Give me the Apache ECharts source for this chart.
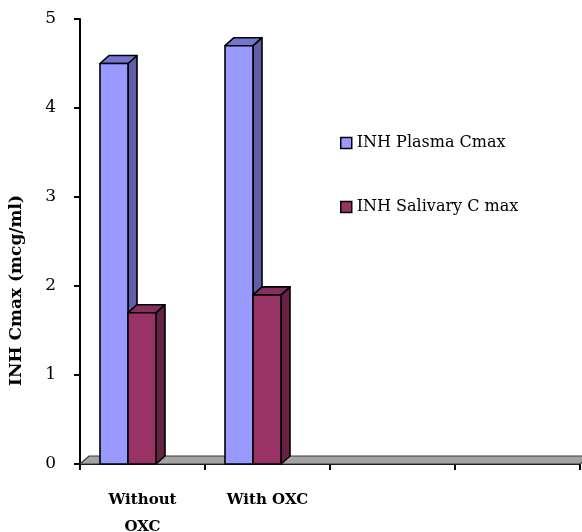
<!DOCTYPE html>
<html>
<head>
<meta charset="utf-8">
<style>
  html, body { margin: 0; padding: 0; background: #fff; }
  #chart { width: 582px; height: 532px; }
</style>
<script src="https://cdn.jsdelivr.net/npm/echarts@6/dist/echarts.min.js"></script>
</head>
<body>
<div id="chart"></div>
<script>
// Categories along the floor (two empty slots keep the same spacing)
const categories = ['Without\nOXC', 'With OXC', '', ''];
// INH peak concentrations (mcg/ml)
const plasmaCmax = [4.5, 4.7];
const salivaryCmax = [1.7, 1.9];
const seriesNames = ['INH Plasma Cmax', 'INH Salivary C max'];
const yTicks = { min: 0, max: 5, interval: 1 };

const FONT = '"DejaVu Serif", serif';
const DX = 9, DY = 8; // 3D depth offset in pixels

// face colours: front, top, side
const palettes = [
  { front: '#9999FF', top: '#7575D1', side: '#6060A8' },
  { front: '#993366', top: '#85305C', side: '#662244' }
];

function barRenderer(seriesIndex) {
  const pal = palettes[seriesIndex];
  return function (params, api) {
    const idx = api.value(0);
    const val = api.value(1);
    const top = api.coord([idx, val]);
    const base = api.coord([idx, 0]);
    const bw = api.size([1, 0])[0];
    const w = bw * 0.224;
    const x0 = top[0] - bw * 0.34 + seriesIndex * w;
    const x1 = x0 + w;
    const yt = top[1], yb = base[1];
    const stroke = { stroke: '#000', lineWidth: 1.6, lineJoin: 'round' };
    return {
      type: 'group',
      children: [
        { type: 'polygon', shape: { points: [[x1, yb], [x1 + DX, yb - DY], [x1 + DX, yt - DY], [x1, yt]] },
          style: Object.assign({ fill: pal.side }, stroke) },
        { type: 'polygon', shape: { points: [[x0, yt], [x0 + DX, yt - DY], [x1 + DX, yt - DY], [x1, yt]] },
          style: Object.assign({ fill: pal.top }, stroke) },
        { type: 'rect', shape: { x: x0, y: yt, width: w, height: yb - yt },
          style: Object.assign({ fill: pal.front }, stroke) }
      ]
    };
  };
}

function floorRenderer(params, api) {
  const cs = params.coordSys;
  const y = cs.y + cs.height;
  const xl = cs.x, xr = cs.x + cs.width;
  return {
    type: 'polygon',
    shape: { points: [[xl, y], [xl + DX, y - DY], [xr + DX, y - DY], [xr, y]] },
    style: { fill: '#A3A3A3', stroke: '#3a3a3a', lineWidth: 1.2 }
  };
}

const chart = echarts.init(document.getElementById('chart'), null, { renderer: 'canvas' });

chart.setOption({
  animation: false,
  backgroundColor: '#fff',
  grid: { left: 80, right: 2, top: 19, bottom: 68, containLabel: false, outerBoundsMode: 'none' },
  legend: {
    orient: 'vertical',
    left: 335,
    top: 128,
    itemWidth: 11,
    itemHeight: 11,
    itemGap: 44,
    icon: 'rect',
    textStyle: { fontFamily: FONT, fontSize: 16, color: '#000', lineHeight: 20 },
    data: seriesNames.map((n, i) => ({
      name: n,
      itemStyle: { color: palettes[i].front, borderColor: '#000', borderWidth: 1.5 }
    }))
  },
  xAxis: {
    type: 'category',
    data: categories,
    boundaryGap: true,
    axisLine: { show: true, lineStyle: { color: '#000', width: 2 } },
    axisTick: { show: true, length: 6, lineStyle: { color: '#000', width: 2 } },
    axisLabel: {
      fontFamily: FONT, fontSize: 15, fontWeight: 'bold', color: '#000',
      lineHeight: 27, margin: 23, interval: 0
    },
    splitLine: { show: false }
  },
  yAxis: {
    type: 'value',
    min: yTicks.min,
    max: yTicks.max,
    interval: yTicks.interval,
    name: 'INH Cmax (mcg/ml)',
    nameLocation: 'middle',
    nameGap: 55,
    nameRotate: 90,
    nameTextStyle: {
      fontFamily: FONT, fontSize: 17, fontWeight: 'bold', color: '#000',
      padding: [0, 98, 0, 0]
    },
    axisLine: { show: true, lineStyle: { color: '#000', width: 2 } },
    axisTick: { show: true, length: 6, lineStyle: { color: '#000', width: 2 } },
    axisLabel: { fontFamily: FONT, fontSize: 17, color: '#000', margin: 24 },
    splitLine: { show: false }
  },
  series: [
    {
      type: 'custom',
      name: 'floor',
      renderItem: floorRenderer,
      data: [[0, 0]],
      z: 1,
      silent: true
    },
    {
      type: 'custom',
      name: seriesNames[0],
      renderItem: barRenderer(0),
      itemStyle: { color: palettes[0].front },
      data: plasmaCmax.map((v, i) => [i, v]),
      z: 2
    },
    {
      type: 'custom',
      name: seriesNames[1],
      renderItem: barRenderer(1),
      itemStyle: { color: palettes[1].front },
      data: salivaryCmax.map((v, i) => [i, v]),
      z: 3
    }
  ]
});
</script>
</body>
</html>
